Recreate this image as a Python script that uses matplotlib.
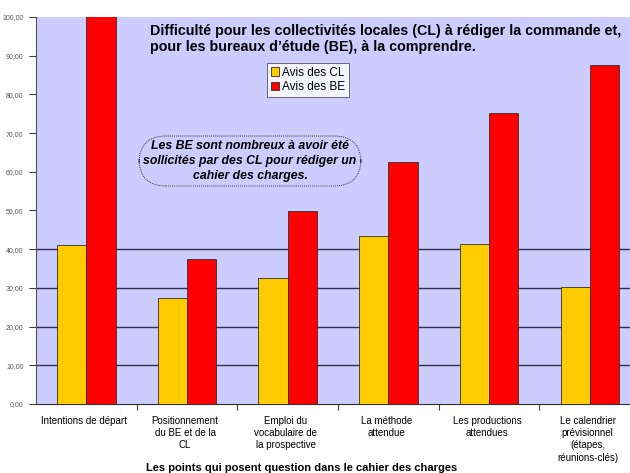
import matplotlib
matplotlib.use("Agg")
import matplotlib.pyplot as plt
import numpy as np

plt.rcParams['font.family'] = ['Liberation Sans', 'DejaVu Sans']

categories = ["Intentions de départ",
              "Positionnement\ndu BE et de la\nCL",
              "Emploi du\nvocabulaire de\nla prospective",
              "La méthode\nattendue",
              "Les productions\nattendues",
              "Le calendrier\nprévisionnel\n(étapes,\nréunions-clés)"]
avis_cl = [41.1, 27.4, 32.6, 43.4, 41.3, 30.2]
avis_be = [101.0, 37.5, 49.9, 62.5, 75.2, 87.6]
yticks = [0, 10, 20, 30, 40, 50, 60, 70, 80, 90, 100]
ytick_labels = ["%d,00" % v for v in yticks]

W, H = 630, 473
fig = plt.figure(figsize=(W / 100, H / 100), dpi=100)
ax = fig.add_axes([36 / W, 1 - 404 / H, (W - 36) / W, (404 - 17) / H])
ax.set_facecolor("#ccccff")

x = np.arange(len(categories))
bw = 0.29
ax.bar(x - bw / 2, avis_cl, bw, color="#ffcc00", edgecolor="#303030",
       linewidth=0.6, label="Avis des CL", zorder=3)
ax.bar(x + bw / 2, avis_be, bw, color="#ff0000", edgecolor="#303030",
       linewidth=0.6, label="Avis des BE", zorder=3)

# only the lower gridlines are drawn
for v in yticks[1:5]:
    ax.axhline(v, color="#303048", lw=1.0, zorder=1)

ax.set_xlim(-0.5, 5.4)
ax.set_ylim(0, 100)
ax.set_yticks(yticks)
ax.set_yticklabels(ytick_labels, fontsize=5, color="#555555")
ax.set_xticks(np.arange(0.5, 5, 1))
ax.set_xticklabels([])
ax.tick_params(axis="x", length=4, color="#404040", direction="out")
ax.tick_params(axis="y", length=5, color="#404040", direction="out", pad=4)
for s in ("top", "right"):
    ax.spines[s].set_visible(False)
ax.spines["left"].set_color("#505060")
ax.spines["bottom"].set_color("#303030")

for i, lab in enumerate(categories):
    ax.text(i - 0.02, -3, lab, ha="center", va="top", fontsize=7,
            linespacing=1.3, clip_on=False)

ax.text((302 - 36) / (W - 36), -0.152,
        "Les points qui posent question dans le cahier des charges",
        transform=ax.transAxes, ha="center", va="top", fontsize=8,
        fontweight="bold")

fig.text(150 / W, 1 - 24 / H,
         "Difficulté pour les collectivités locales (CL) à rédiger la commande et,\n"
         "pour les bureaux d\u2019étude (BE), à la comprendre.",
         ha="left", va="top", fontsize=10.3, fontweight="bold", linespacing=1.22)

leg = ax.legend(loc="upper left", bbox_to_anchor=((267 - 36) / (W - 36), 1 - (63 - 17) / 387),
                fontsize=8.5, frameon=True, fancybox=False, handlelength=0.7,
                handleheight=0.7, handletextpad=0.3, borderpad=0.3,
                labelspacing=0.25, borderaxespad=0)
leg.get_frame().set_edgecolor("#333333")
leg.get_frame().set_linewidth(0.6)

ax.text((250 - 36) / (W - 36), 1 - (161 - 17) / 387,
        "Les BE sont nombreux à avoir été\nsollicités par des CL pour rédiger un\ncahier des charges.",
        transform=ax.transAxes, ha="center", va="center", fontsize=8.8,
        fontweight="bold", fontstyle="italic", zorder=5, linespacing=1.3,
        bbox=dict(boxstyle="round,pad=0.35,rounding_size=2.2", fc="#ccccff",
                  ec="#333333", lw=0.7, ls=(0, (1, 1))))

fig.savefig("out.png", dpi=100, facecolor="white")
